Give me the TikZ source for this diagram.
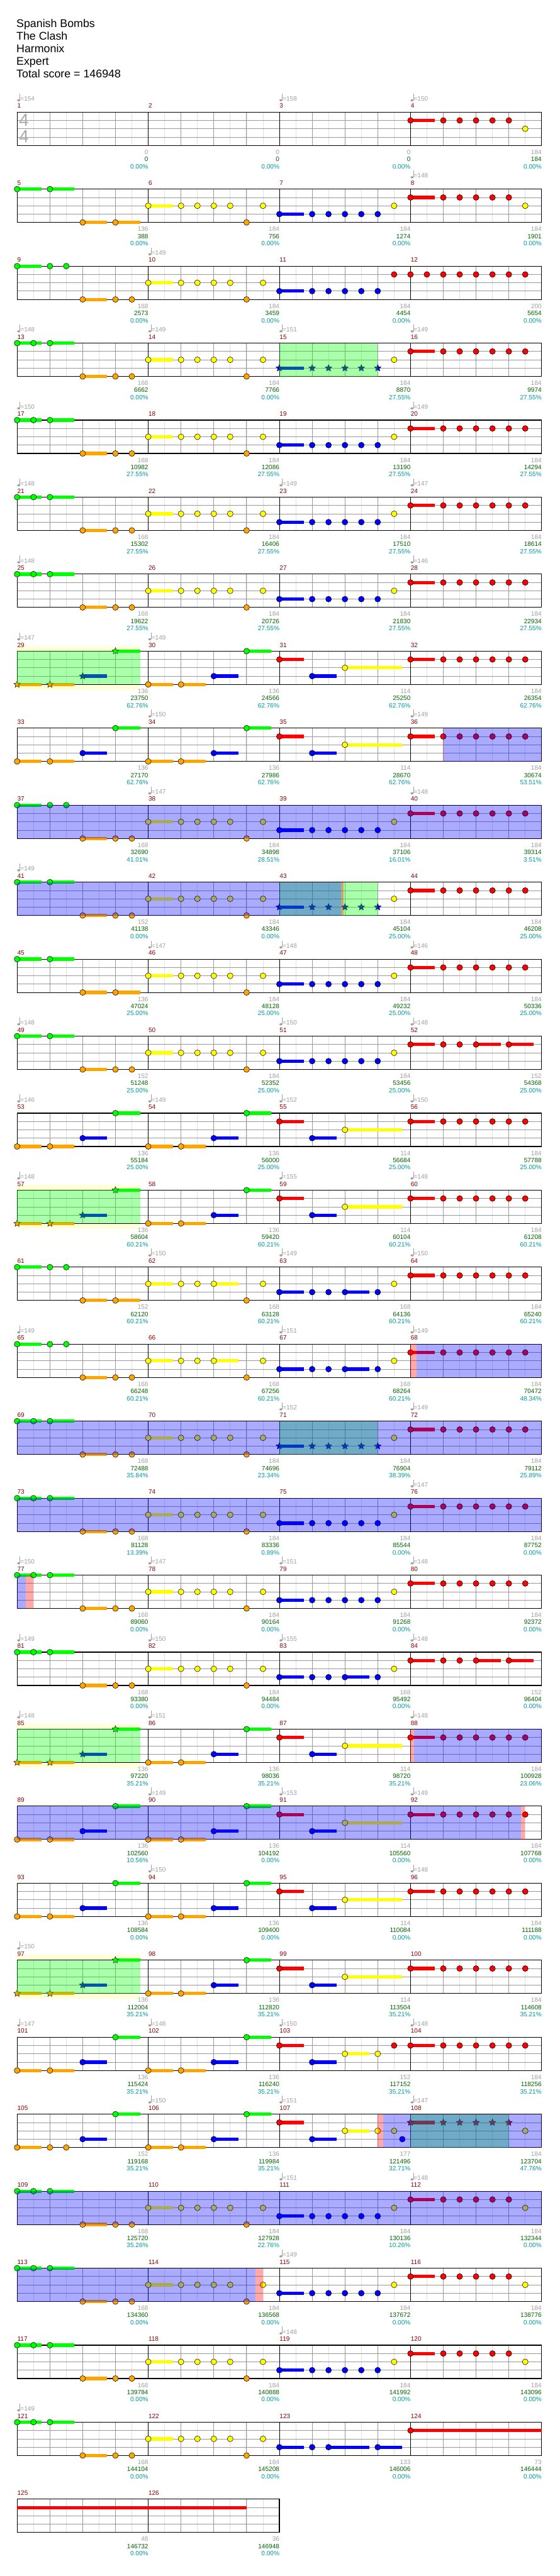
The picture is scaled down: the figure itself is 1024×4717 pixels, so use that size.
\documentclass[tikz,border=0pt]{standalone}
\usepackage{fontspec}
\setmainfont{Liberation Sans}
\usetikzlibrary{shapes.geometric}

\definecolor{lane0}{HTML}{00FF00}
\definecolor{lane1}{HTML}{FF0000}
\definecolor{lane2}{HTML}{FFFF00}
\definecolor{lane3}{HTML}{0000FF}
\definecolor{lane4}{HTML}{FFA500}
\definecolor{barnum}{HTML}{8B0000}
\definecolor{cntgray}{HTML}{A0A0A0}
\definecolor{scoregreen}{HTML}{006400}
\definecolor{pcteal}{HTML}{009999}
\definecolor{eighthgray}{HTML}{E0E0E0}
\definecolor{beatgray}{HTML}{999999}
\definecolor{tsgray}{HTML}{AAAAAA}
\definecolor{phrase}{HTML}{FFFFD8}

\tikzset{
  chartrow/.style={shift={(31.3,{205.3+141*(#1-1)})}},
  eighthline/.style={draw=eighthgray, line width=0.8pt},
  beatline/.style={draw=beatgray, line width=0.9pt},
  barline/.style={draw=black, line width=0.8pt},
  staffframe/.style={draw=black, line width=1.3pt},
  gem/.style={circle, draw=black, line width=0.6pt, minimum size=10.6pt, inner sep=0pt},
  stargem/.style={star, star points=5, star point ratio=2.2, draw=black, line width=0.5pt, minimum size=13pt, inner sep=0pt},
  chartfont/.style={font=\fontsize{11.6}{12}\selectfont, inner sep=0pt, outer sep=0pt},
  headfont/.style={font=\fontsize{20.5}{24}\selectfont, inner sep=0pt, anchor=base west},
  timesig/.style={font=\fontsize{32}{34}\selectfont, text=tsgray, inner sep=0pt}
}

% note groups: lane/eighth/sustain
\def\grA{0/0/1.5,0/1/0,0/2/1.5}
\def\grB{0/0/1.5,0/2/0,0/3/0}
\def\grC{0/0/1.5,0/2/1.5}
\def\orA{4/4/1.5,4/6/0,4/7/0,4/14/0}
\def\orB{4/4/1.5,4/6/1.5,4/14/0}
\def\yeA{2/8/1.5,2/10/0,2/11/0,2/12/0,2/13/0,2/15/0}
\def\yeB{2/8/1.5,2/10/0,2/11/0,2/12/1.5,2/15/0}
\def\yeX{2/23/0}
\def\blA{3/16/1.5,3/18/0,3/19/0,3/20/0,3/21/0,3/22/0}
\def\blB{3/16/1.5,3/18/0,3/19/0,3/20/1.5,3/22/0}
\def\reA{1/24/1.5,1/26/0,1/27/0,1/28/0,1/29/0,1/30/0,1/31/0}
\def\reB{1/24/1.5,1/26/0,1/27/0,1/28/0,1/29/0,1/30/0,2/31/0}
\def\reC{1/24/1.5,1/26/0,1/27/0,1/28/1.5,1/30/1.5}
\def\chA{4/0/1.5,4/2/1.5,3/4/1.5,0/6/1.5}
\def\chB{4/8/1.5,4/10/1.5,3/12/1.5,0/14/1.5,1/16/1.5,3/18/1.5}
\def\chC{2/20/3.5}

\newcommand\drawstaff[1]{%
  \fill[white] (0,0) rectangle (240*#1,61);
  \pgfmathtruncatemacro\neig{8*#1-1}%
  \foreach \e in {1,...,\neig} \draw[eighthline] (30*\e,0) -- (30*\e,61);
  \pgfmathtruncatemacro\nbt{4*#1-1}%
  \foreach \bt in {1,...,\nbt} \draw[beatline] (60*\bt,0) -- (60*\bt,61);
  \foreach \ln in {1,2,3} \draw[beatline] (0,15.25*\ln) -- (240*#1,15.25*\ln);
  \pgfmathtruncatemacro\nms{#1-1}%
  \foreach \m in {1,...,\nms} \draw[barline] (240*\m,0) -- (240*\m,61);
  \draw[staffframe] (0,0) rectangle (240*#1,61);
}
\newcommand\gems[1]{%
  \edef\gemlist{#1}%
  \foreach \lane/\pos/\len in \gemlist {%
    \ifdim\len pt>0pt \fill[lane\lane] (30*\pos,15.25*\lane-3) rectangle ++(30*\len,6);\fi
    \node[gem, fill=lane\lane] (gem\lane-\pos) at (30*\pos,15.25*\lane) {};
  }}
\newcommand\stargems[1]{%
  \edef\gemlist{#1}%
  \foreach \lane/\pos/\len in \gemlist {%
    \ifdim\len pt>0pt \fill[lane\lane] (30*\pos,15.25*\lane-3) rectangle ++(30*\len,6);\fi
    \node[stargem, fill=lane\lane] (star\lane-\pos) at (30*\pos,15.25*\lane) {};
  }}
\newcommand\zone[3]{\fill[#1, fill opacity=0.333] (#2,0) rectangle (#3,61);}
\newcommand\phraseband[1]{\fill[phrase] (0,-10) rectangle (#1,71);}
\newcommand\tempos[2]{%
  \foreach \col/\bpm in {#2} {%
    \pgfmathtruncatemacro\tm{#1+\col}%
    \fill[cntgray] (240*\col+2.8,-21.6) ellipse [x radius=2.7, y radius=2];
    \draw[cntgray, line width=0.7pt] (240*\col+5.2,-21.8) -- (240*\col+5.2,-34);
    \node[chartfont, text=cntgray, anchor=base west] (tempo\tm) at (240*\col+6,-20.6) {=\bpm};
  }}
\newcommand\bars[2]{%
  \foreach \cnt/\pts/\pct [count=\ci from 0] in {#2} {%
    \pgfmathtruncatemacro\mn{#1+\ci}%
    \node[chartfont, text=barnum, anchor=base west] (bar\mn) at (240*\ci+0.5,-7.3) {\mn};
    \node[chartfont, text=cntgray, anchor=base east] (cnt\mn) at (240*\ci+240,77.2) {\cnt};
    \node[chartfont, text=scoregreen, anchor=base east] (score\mn) at (240*\ci+240,90.2) {\pts};
    \node[chartfont, text=pcteal, anchor=base east] (pct\mn) at (240*\ci+240,103.5) {\pct\%};
  }}

\begin{document}
\begin{tikzpicture}[x=1pt, y=-1pt]
\useasboundingbox (0,0) rectangle (1024,4717);
\fill[white] (0,0) rectangle (1024,4717);

\node[headfont] (title) at (30,50) {Spanish Bombs};
\node[headfont] (artist) at (30,73) {The Clash};
\node[headfont] (studio) at (30,96) {Harmonix};
\node[headfont] (level) at (30,119) {Expert};
\node[headfont] (total) at (30,142) {Total score = 146948};

\begin{scope}[chartrow=1]
\drawstaff{4}
\node[timesig] (tsup) at (12.7,15) {4};
\node[timesig] (tslow) at (12.7,45) {4};
\gems{\reB}
\tempos{1}{0/154,2/158,3/150}
\bars{1}{0/0/0.00,0/0/0.00,0/0/0.00,184/184/0.00}
\end{scope}

\begin{scope}[chartrow=2]
\drawstaff{4}
\gems{\grC,\orB,\yeA,\blA,\yeX,\reB}
\tempos{5}{3/148}
\bars{5}{136/388/0.00,184/756/0.00,184/1274/0.00,184/1901/0.00}
\end{scope}

\begin{scope}[chartrow=3]
\drawstaff{4}
\gems{\grB,\orA,\yeA,\blA,1/23/0,1/24/0,1/25/0,1/26/0,1/27/0,1/28/0,1/29/0,1/30/0,1/31/0}
\tempos{9}{1/149}
\bars{9}{168/2573/0.00,184/3459/0.00,184/4454/0.00,200/5654/0.00}
\end{scope}

\begin{scope}[chartrow=4]
\drawstaff{4}
\gems{\grA,\orA,\yeA,\yeX,\reA}
\stargems{\blA}
\zone{lane0}{480}{660}
\tempos{13}{0/148,1/149,2/151,3/149}
\bars{13}{168/6662/0.00,184/7766/0.00,184/8870/27.55,184/9974/27.55}
\end{scope}

\begin{scope}[chartrow=5]
\drawstaff{4}
\gems{\grA,\orA,\yeA,\blA,\yeX,\reA}
\tempos{17}{0/150,3/149}
\bars{17}{168/10982/27.55,184/12086/27.55,184/13190/27.55,184/14294/27.55}
\end{scope}

\begin{scope}[chartrow=6]
\drawstaff{4}
\gems{\grA,\orA,\yeA,\blA,\yeX,\reA}
\tempos{21}{0/148,2/149,3/147}
\bars{21}{168/15302/27.55,184/16406/27.55,184/17510/27.55,184/18614/27.55}
\end{scope}

\begin{scope}[chartrow=7]
\drawstaff{4}
\gems{\grA,\orA,\yeA,\blA,\yeX,\reA}
\tempos{25}{0/148,3/146}
\bars{25}{168/19622/27.55,184/20726/27.55,184/21830/27.55,184/22934/27.55}
\end{scope}

\begin{scope}[chartrow=8]
\phraseband{225}
\drawstaff{4}
\stargems{\chA}
\gems{\chB,\chC,\reA}
\zone{lane0}{0}{225}
\tempos{29}{0/147,1/149}
\bars{29}{136/23750/62.76,136/24566/62.76,114/25250/62.76,184/26354/62.76}
\end{scope}

\begin{scope}[chartrow=9]
\drawstaff{4}
\gems{\chA,\chB,\chC,\reA}
\zone{lane3}{781}{960}
\zone{lane1}{779}{781}
\tempos{33}{1/150,3/149}
\bars{33}{136/27170/62.76,136/27986/62.76,114/28670/62.76,184/30674/53.51}
\end{scope}

\begin{scope}[chartrow=10]
\drawstaff{4}
\gems{\grB,\orA,\yeA,\blA,\yeX,\reA}
\zone{lane3}{0}{960}
\tempos{37}{1/147,3/148}
\bars{37}{168/32690/41.01,184/34898/28.51,184/37106/16.01,184/39314/3.51}
\end{scope}

\begin{scope}[chartrow=11]
\drawstaff{4}
\gems{\grC,\orA,\yeA,\yeX,\reA}
\stargems{\blA}
\zone{lane0}{480}{660}
\zone{lane3}{0}{593}
\zone{lane1}{593}{597}
\tempos{41}{0/149}
\bars{41}{152/41138/0.00,184/43346/0.00,184/45104/25.00,184/46208/25.00}
\end{scope}

\begin{scope}[chartrow=12]
\drawstaff{4}
\gems{\grC,\orB,\yeA,\blA,\yeX,\reA}
\tempos{45}{1/147,2/148,3/146}
\bars{45}{136/47024/25.00,184/48128/25.00,184/49232/25.00,184/50336/25.00}
\end{scope}

\begin{scope}[chartrow=13]
\drawstaff{4}
\gems{\grC,\orA,\yeA,\blA,\yeX,\reC}
\tempos{49}{0/148,2/150,3/148}
\bars{49}{152/51248/25.00,184/52352/25.00,184/53456/25.00,152/54368/25.00}
\end{scope}

\begin{scope}[chartrow=14]
\drawstaff{4}
\gems{\chA,\chB,\chC,\reA}
\tempos{53}{0/146,1/149,2/152,3/150}
\bars{53}{136/55184/25.00,136/56000/25.00,114/56684/25.00,184/57788/25.00}
\end{scope}

\begin{scope}[chartrow=15]
\phraseband{225}
\drawstaff{4}
\stargems{\chA}
\gems{\chB,\chC,\reA}
\zone{lane0}{0}{225}
\tempos{57}{0/148,2/155,3/148}
\bars{57}{136/58604/60.21,136/59420/60.21,114/60104/60.21,184/61208/60.21}
\end{scope}

\begin{scope}[chartrow=16]
\drawstaff{4}
\gems{\grB,\orB,\yeB,\blB,\yeX,\reA}
\tempos{61}{1/150,2/149,3/150}
\bars{61}{152/62120/60.21,168/63128/60.21,168/64136/60.21,184/65240/60.21}
\end{scope}

\begin{scope}[chartrow=17]
\drawstaff{4}
\gems{\grB,\orA,\yeB,\blB,\yeX,\reA}
\zone{lane1}{720}{730.5}
\zone{lane3}{730.5}{960}
\tempos{65}{0/149,2/151,3/149}
\bars{65}{168/66248/60.21,168/67256/60.21,168/68264/60.21,184/70472/48.34}
\end{scope}

\begin{scope}[chartrow=18]
\drawstaff{4}
\gems{\grA,\orA,\yeA,\yeX,\reA}
\stargems{\blA}
\zone{lane0}{480}{660}
\zone{lane3}{0}{960}
\tempos{69}{2/152,3/149}
\bars{69}{168/72488/35.84,184/74696/23.34,184/76904/38.39,184/79112/25.89}
\end{scope}

\begin{scope}[chartrow=19]
\drawstaff{4}
\gems{\grA,\orA,\yeA,\blA,\yeX,\reA}
\zone{lane3}{0}{960}
\tempos{73}{3/147}
\bars{73}{168/81128/13.39,184/83336/0.89,184/85544/0.00,184/87752/0.00}
\end{scope}

\begin{scope}[chartrow=20]
\drawstaff{4}
\gems{\grA,\orA,\yeA,\blA,\yeX,\reA}
\zone{lane3}{0}{16.3}
\zone{lane1}{16.3}{30}
\tempos{77}{0/150,1/147,2/151,3/148}
\bars{77}{168/89060/0.00,184/90164/0.00,184/91268/0.00,184/92372/0.00}
\end{scope}

\begin{scope}[chartrow=21]
\drawstaff{4}
\gems{\grA,\orA,\yeA,\blB,\yeX,\reC}
\tempos{81}{0/149,1/150,2/155,3/148}
\bars{81}{168/93380/0.00,184/94484/0.00,168/95492/0.00,152/96404/0.00}
\end{scope}

\begin{scope}[chartrow=22]
\phraseband{225}
\drawstaff{4}
\stargems{\chA}
\gems{\chB,\chC,\reA}
\zone{lane0}{0}{225}
\zone{lane1}{720}{726}
\zone{lane3}{726}{960}
\tempos{85}{0/148,1/151,3/148}
\bars{85}{136/97220/35.21,136/98036/35.21,114/98720/35.21,184/100928/23.06}
\end{scope}

\begin{scope}[chartrow=23]
\drawstaff{4}
\gems{\chA,\chB,\chC,\reA}
\zone{lane3}{0}{921.7}
\zone{lane1}{921.7}{929.5}
\tempos{89}{1/149,2/153,3/149}
\bars{89}{136/102560/10.56,136/104192/0.00,114/105560/0.00,184/107768/0.00}
\end{scope}

\begin{scope}[chartrow=24]
\drawstaff{4}
\gems{\chA,\chB,\chC,\reA}
\tempos{93}{1/150,3/148}
\bars{93}{136/108584/0.00,136/109400/0.00,114/110084/0.00,184/111188/0.00}
\end{scope}

\begin{scope}[chartrow=25]
\phraseband{225}
\drawstaff{4}
\stargems{\chA}
\gems{\chB,\chC,\reA}
\zone{lane0}{0}{225}
\tempos{97}{0/150}
\bars{97}{136/112004/35.21,136/112820/35.21,114/113504/35.21,184/114608/35.21}
\end{scope}

\begin{scope}[chartrow=26]
\drawstaff{4}
\gems{\chA,\chB,2/20/1.5,2/22/0,1/23/0,\reA}
\tempos{101}{0/147,1/148,2/150,3/148}
\bars{101}{136/115424/35.21,136/116240/35.21,152/117152/35.21,184/118256/35.21}
\end{scope}

\begin{scope}[chartrow=27]
\drawstaff{4}
\gems{4/0/1.5,4/2/0,4/3/0,3/4/1.5,0/6/1.5,\chB,2/20/1.5,2/22/0,2/23/0,3/23.5/0,2/31/0}
\stargems{1/24/1.5,1/26/0,1/27/0,1/28/0,1/29/0,1/30/0}
\zone{lane0}{720}{900}
\zone{lane1}{660}{670.4}
\zone{lane3}{670.4}{960}
\tempos{105}{1/150,2/151,3/147}
\bars{105}{152/119168/35.21,136/119984/35.21,177/121496/32.71,184/123704/47.76}
\end{scope}

\begin{scope}[chartrow=28]
\drawstaff{4}
\gems{\grA,\orA,\yeA,\blA,\yeX,\reB}
\zone{lane3}{0}{960}
\tempos{109}{2/151,3/148}
\bars{109}{168/125720/35.26,184/127928/22.76,184/130136/10.26,184/132344/0.00}
\end{scope}

\begin{scope}[chartrow=29]
\drawstaff{4}
\gems{\grA,\orA,\yeA,\blA,\yeX,\reB}
\zone{lane3}{0}{436.7}
\zone{lane1}{436.7}{449.7}
\tempos{113}{2/149}
\bars{113}{168/134360/0.00,184/136568/0.00,184/137672/0.00,184/138776/0.00}
\end{scope}

\begin{scope}[chartrow=30]
\drawstaff{4}
\gems{\grA,\orA,\yeA,\blA,\yeX,\reB}
\tempos{117}{2/148}
\bars{117}{168/139784/0.00,184/140888/0.00,184/141992/0.00,184/143096/0.00}
\end{scope}

\begin{scope}[chartrow=31]
\drawstaff{4}
\gems{\grA,\orA,\yeA,3/16/1.5,3/18/0,3/19/2.5,3/22/1.5,1/24/8}
\tempos{121}{0/149}
\bars{121}{168/144104/0.00,184/145208/0.00,133/146006/0.00,73/146444/0.00}
\end{scope}

\begin{scope}[chartrow=32]
\drawstaff{2}
\fill[lane1] (0,12.25) rectangle (420,18.25);
\bars{125}{48/146732/0.00,36/146948/0.00}
\end{scope}

\end{tikzpicture}
\end{document}
